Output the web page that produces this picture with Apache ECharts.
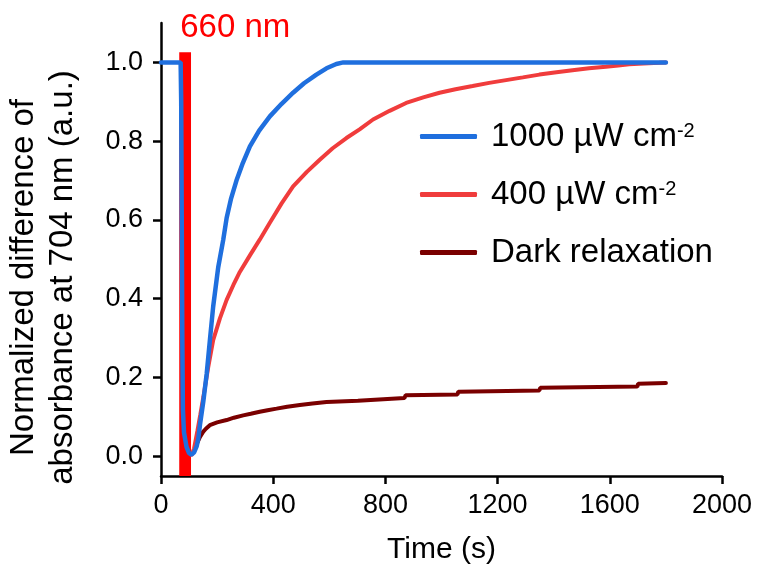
<!DOCTYPE html>
<html>
<head>
<meta charset="utf-8">
<script src="https://cdn.jsdelivr.net/npm/echarts@6/dist/echarts.min.js"></script>
<style>html,body{margin:0;padding:0;background:#fff}#c{width:758px;height:571px}</style>
</head>
<body>
<div id="c"></div>
<script>
// ---- data ----
const xTicks = [0, 400, 800, 1200, 1600, 2000];
const yTicks = [0, 0.2, 0.4, 0.6, 0.8, 1.0];
const seriesNames = ['1000 µW cm-2', '400 µW cm-2', 'Dark relaxation'];
const pulseLabel = '660 nm';
const pulseStartEnd = [65, 107];     // s
const pulseTop = 1.026;              // a.u.

const blue1000 = [
  [0,1.0],[40,1.0],[70,1.0],[72,0.9],[74,0.6],[76,0.3],[78,0.12],[82,0.06],[91,0.024],
  [100,0.008],[109,0.004],[118,0.01],[127,0.025],[133,0.045],[139,0.08],[151,0.14],[163,0.21],
  [175,0.3],[186,0.38],[204,0.48],[222,0.55],[234,0.605],[250,0.655],[269,0.70],[292,0.745],
  [317,0.787],[350,0.827],[388,0.863],[430,0.895],[471,0.923],[510,0.947],[554,0.969],
  [590,0.985],[625,0.996],[650,1.0],[700,1.0],[900,1.0],[1200,1.0],[1500,1.0],[1800,1.0]
];
const red400 = [
  [109,0.004],[118,0.02],[130,0.065],[140,0.105],[151,0.15],[168,0.225],[186,0.295],
  [210,0.35],[234,0.397],[258,0.435],[281,0.468],[317,0.51],[352,0.55],[388,0.593],
  [430,0.642],[471,0.685],[520,0.722],[566,0.753],[612,0.782],[661,0.808],[708,0.83],
  [756,0.855],[815,0.877],[874,0.897],[935,0.911],[993,0.923],[1050,0.932],[1111,0.940],
  [1170,0.948],[1230,0.955],[1290,0.962],[1349,0.969],[1410,0.975],[1467,0.980],
  [1526,0.985],[1586,0.989],[1630,0.992],[1669,0.995],[1720,0.997],[1776,0.999],[1800,1.0]
];
const darkRelax = [
  [130,0.035],[139,0.049],[150,0.062],[160,0.07],[174,0.079],[200,0.086],[234,0.092],
  [260,0.098],[293,0.104],[320,0.108],[352,0.113],[380,0.117],[412,0.121],[450,0.126],
  [495,0.130],[540,0.134],[590,0.138],[702,0.141],[705,0.146],[868,0.148],[872,0.155],
  [1057,0.157],[1060,0.164],[1349,0.167],[1352,0.174],[1698,0.177],[1701,0.184],[1800,0.186]
];

// ---- chart ----
const FONT = 'Liberation Sans, Arial, Helvetica, sans-serif';
const chart = echarts.init(document.getElementById('c'), null, {renderer: 'canvas'});
const supRich = {
  sup: {fontSize: 20, verticalAlign: 'top', lineHeight: 30, fontFamily: FONT, color: '#000'}
};
function legendFmt(name) {
  return name.replace(/cm-2$/, 'cm{sup|-2}');
}
chart.setOption({
  backgroundColor: '#fff',
  animation: false,
  grid: {left: 161, right: 36, top: 23, bottom: 95, containLabel: false, outerBoundsMode: 'none'},
  xAxis: {
    type: 'value', min: 0, max: 2000, interval: 400,
    name: 'Time (s)', nameLocation: 'middle', nameGap: 59,
    nameTextStyle: {fontSize: 30, fontFamily: FONT, color: '#000'},
    axisLine: {show: true, onZero: false, lineStyle: {color: '#000', width: 2.5}},
    axisTick: {show: true, length: 8, lineStyle: {color: '#000', width: 2.5}},
    axisLabel: {fontSize: 27, fontFamily: FONT, color: '#000', margin: 16,
      customValues: xTicks, formatter: v => String(v)},
    splitLine: {show: false}
  },
  yAxis: {
    type: 'value', min: -0.05, max: 1.1,
    name: 'Normalized difference of\nabsorbance at 704 nm (a.u.)',
    nameLocation: 'middle', nameGap: 79, nameRotate: 90,
    nameTextStyle: {fontSize: 33, fontFamily: FONT, color: '#000', lineHeight: 39,
      padding: [0, 56, 0, 0]},
    axisLine: {show: true, onZero: false, lineStyle: {color: '#000', width: 2.5}},
    axisTick: {show: true, length: 8, lineStyle: {color: '#000', width: 2.5}, customValues: yTicks},
    axisLabel: {fontSize: 27, fontFamily: FONT, color: '#000', margin: 18,
      customValues: yTicks, formatter: v => v.toFixed(1)},
    splitLine: {show: false}
  },
  legend: {
    data: seriesNames,
    orient: 'vertical', left: 415, top: 115,
    icon: 'roundRect',
    itemWidth: 57, itemHeight: 5, itemGap: 25,
    formatter: legendFmt,
    textStyle: {fontSize: 33, fontFamily: FONT, color: '#000', lineHeight: 30,
      padding: [0, 0, 0, 9], rich: supRich},
    selectedMode: false
  },
  series: [
    {
      name: 'pulse', type: 'line', data: [], z: 1, silent: true,
      markArea: {
        silent: true,
        itemStyle: {color: '#ff0000', opacity: 1},
        label: {show: true, formatter: pulseLabel, position: [1, -41], align: 'left',
          verticalAlign: 'top', color: '#ff0000', fontSize: 33, fontFamily: FONT},
        data: [[{xAxis: pulseStartEnd[0], yAxis: -0.05}, {xAxis: pulseStartEnd[1], yAxis: pulseTop}]]
      }
    },
    {name: seriesNames[2], type: 'line', data: darkRelax, z: 3, symbol: 'none', showSymbol: false,
      color: '#7a0000', lineStyle: {width: 4, color: '#7a0000', cap: 'round'}},
    {name: seriesNames[1], type: 'line', data: red400, z: 4, symbol: 'none', showSymbol: false,
      color: '#f03c3c', lineStyle: {width: 4, color: '#f03c3c', cap: 'round'}},
    {name: seriesNames[0], type: 'line', data: blue1000, z: 5, symbol: 'none', showSymbol: false,
      color: '#1f6fde', lineStyle: {width: 4.5, color: '#1f6fde', cap: 'round'}}
  ]
});
</script>
</body>
</html>
